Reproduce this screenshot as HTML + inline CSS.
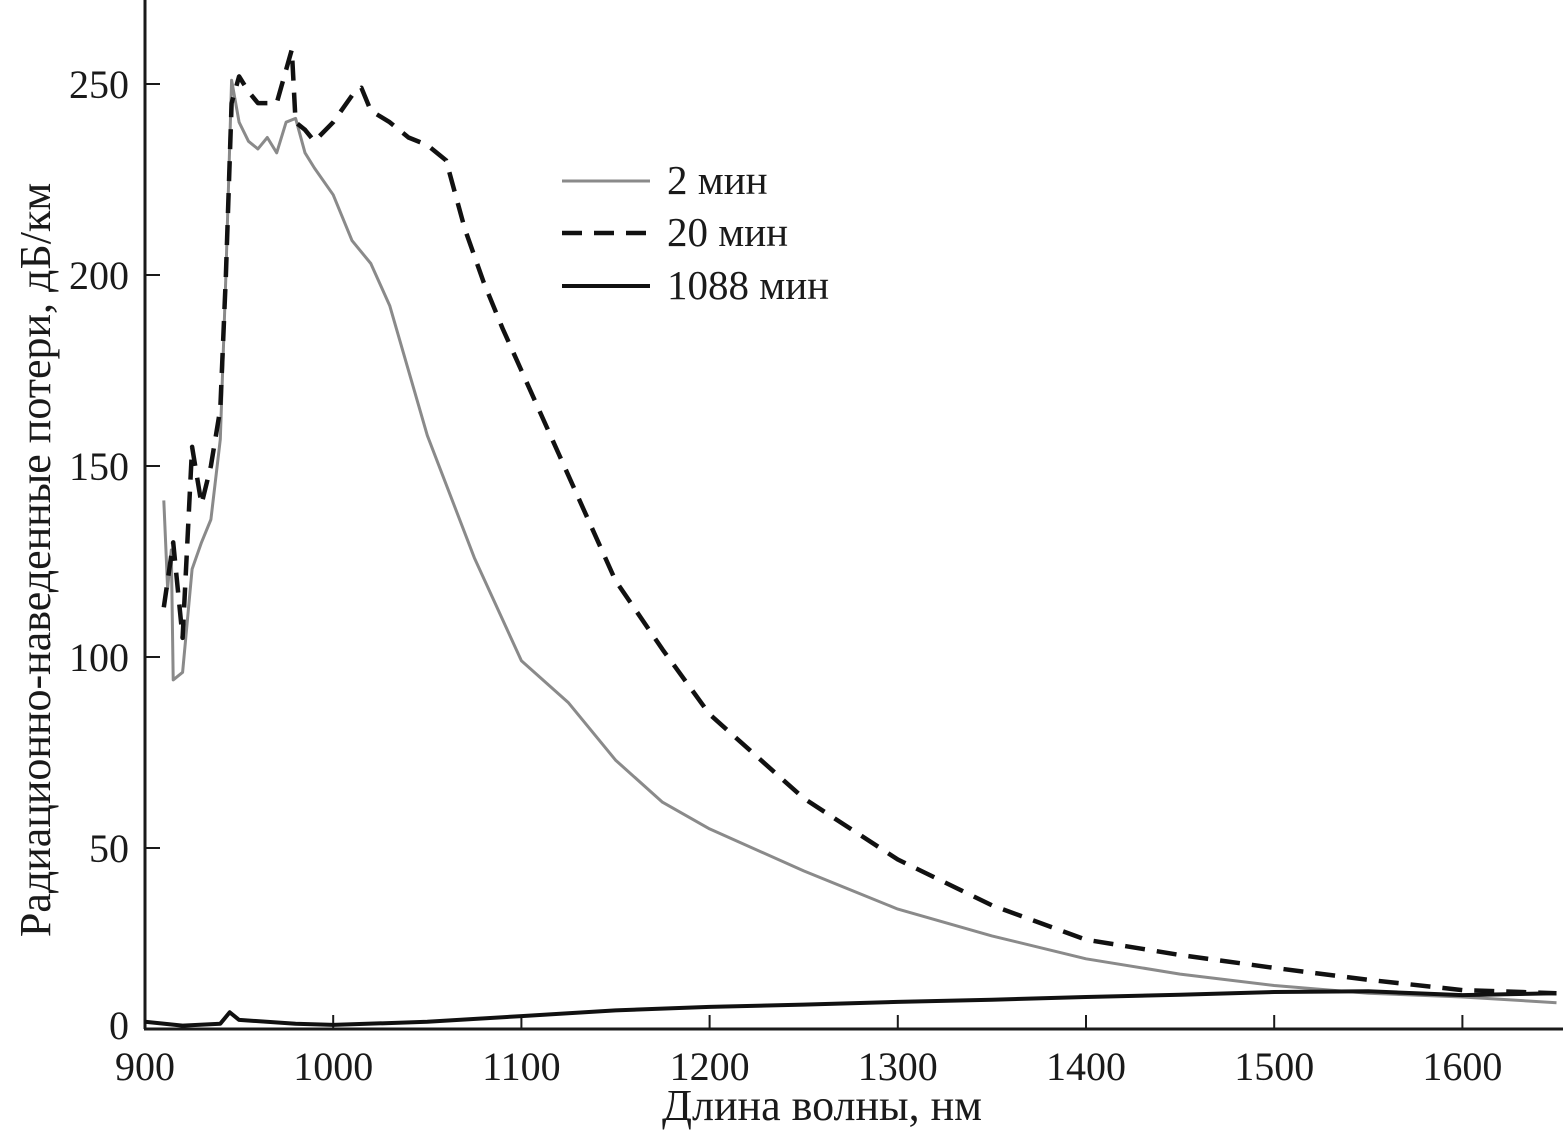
<!DOCTYPE html>
<html><head><meta charset="utf-8"><style>
body{margin:0;background:#fff}
svg{display:block}
text{font-family:"Liberation Serif",serif;fill:#1a1a1a}
</style></head><body>
<svg id="chart" width="1563" height="1132" viewBox="0 0 1563 1132" xmlns="http://www.w3.org/2000/svg">
<g id="axes"></g>
<g id="series"></g>
<g id="legend">
<line x1="562" y1="181" x2="650" y2="181" stroke="#8a8a8a" stroke-width="3"/>
<text x="667" y="194" font-size="41">2 мин</text>
<line x1="562" y1="233" x2="650" y2="233" stroke="#111" stroke-width="4.5" stroke-dasharray="20 12"/>
<text x="667" y="246" font-size="41">20 мин</text>
<line x1="562" y1="286" x2="650" y2="286" stroke="#111" stroke-width="4"/>
<text x="667" y="299" font-size="41">1088 мин</text>
</g>
<text x="822" y="1120" font-size="44" text-anchor="middle">Длина волны, нм</text>
<text transform="translate(50,560) rotate(-90)" font-size="44" text-anchor="middle">Радиационно-наведенные потери, дБ/км</text>
</svg>
<script>
const xTicks=[900,1000,1100,1200,1300,1400,1500,1600];
const yTicks=[0,50,100,150,200,250];
const wl2=[910,912,914,915,920,925,930,935,940,943,946,950,955,960,965,970,975,980,985,990,1000,1005,1010,1020,1030,1050,1075,1100,1125,1150,1175,1200,1250,1300,1350,1400,1450,1500,1550,1600,1650];
const v2=[141,118,128,94,96,123,130,136,157,200,251,240,235,233,236,232,240,241,232,228,221,215,209,203,192,158,126,99,88,73,62,55,44,34,27,21,17,14,12,11,9.5];
const wl20=[910,915,920,925,930,935,940,943,946,950,955,960,970,978,980,985,990,1000,1010,1015,1020,1030,1040,1050,1060,1070,1080,1090,1100,1120,1150,1175,1200,1250,1300,1350,1400,1450,1500,1550,1600,1650];
const v20=[113,130,105,155,140,150,165,200,245,252,248,245,245,259,240,238,235,240,247,249,243,240,236,234,230,212,198,186,175,153,120,102,85,63,47,35,26,22,18.6,15.5,12.8,12];
const wl1088=[900,920,940,945,950,980,1000,1050,1100,1150,1200,1250,1300,1350,1400,1450,1500,1550,1600,1650];
const v1088=[4.5,3.5,4,7,5,4,3.7,4.5,6,7.5,8.4,9,9.7,10.3,11,11.6,12.3,12.5,11.5,12];
const X=w=>145+(w-900)*1.882;
const Y=v=>1039-v*3.82;
const NS="http://www.w3.org/2000/svg";
const ax=document.getElementById('axes');
function mk(t,a,p){const e=document.createElementNS(NS,t);for(const k in a)e.setAttribute(k,a[k]);p.appendChild(e);return e;}
const yl=mk('line',{x1:145,y1:0,x2:145,y2:1029,stroke:'#1a1a1a','stroke-width':3},ax);


const xl=mk('line',{x1:144,y1:1029,x2:1563,y2:1029,stroke:'#1a1a1a','stroke-width':3},ax);


xTicks.forEach(t=>{
 const l=mk('line',{x1:X(t),y1:1029,x2:X(t),y2:1015,stroke:'#1a1a1a','stroke-width':2},ax);
 
 
 const tx=mk('text',{x:X(t),y:1080,'font-size':40,'text-anchor':'middle'},ax);
 tx.textContent=t;
 
 
});
yTicks.forEach(t=>{
 const yy=t===0?1029:Y(t);
 if(t>0){const l=mk('line',{x1:145,y1:yy,x2:160,y2:yy,stroke:'#1a1a1a','stroke-width':2},ax);
 
 }
 const tx=mk('text',{x:129,y:(t===0?1025:yy)+14,'font-size':40,'text-anchor':'end'},ax);
 tx.textContent=t;
 
 
});
const sg=document.getElementById('series');
function line(ws,vs,attrs,name){
 const d=ws.map((w,i)=>(i?'L':'M')+X(w).toFixed(1)+','+Y(vs[i]).toFixed(1)).join('');
 const p=mk('path',Object.assign({d:d,fill:'none','stroke-linejoin':'round'},attrs),sg);
 
 
}
line(wl2,v2,{stroke:'#8a8a8a','stroke-width':3},'series-2min');
line(wl20,v20,{stroke:'#111','stroke-width':4.5,'stroke-dasharray':'20 12'},'series-20min');
line(wl1088,v1088,{stroke:'#111','stroke-width':4},'series-1088min');
</script>
</body></html>
